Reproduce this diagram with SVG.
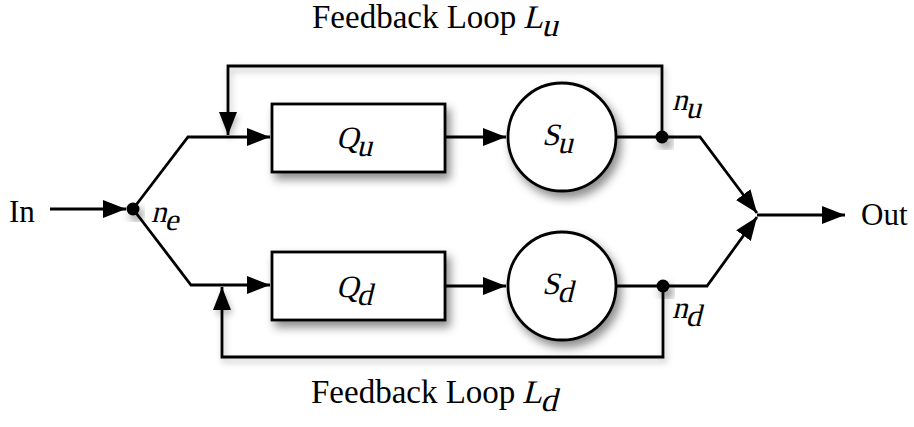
<svg xmlns="http://www.w3.org/2000/svg" width="914" height="427" viewBox="0 0 914 427">
<defs>
<marker id="arr" markerUnits="userSpaceOnUse" markerWidth="26" markerHeight="20" refX="23" refY="9" orient="auto">
<path d="M0,0 L23,9 L0,18 z" fill="#000"/>
</marker>
<filter id="sh" x="-30%" y="-30%" width="170%" height="180%">
<feDropShadow dx="4" dy="6" stdDeviation="5" flood-color="#000" flood-opacity="0.45"/>
</filter>
<filter id="shl" x="-10%" y="-50%" width="120%" height="200%">
<feDropShadow dx="2" dy="4" stdDeviation="3" flood-color="#000" flood-opacity="0.25"/>
</filter>
</defs>
<style>
.ln{fill:none;stroke:#000;stroke-width:2.8;stroke-linejoin:miter}
.node{fill:#fff;stroke:#000;stroke-width:2.8}
.t{font-family:"Liberation Serif","Times New Roman",serif;font-size:31px;fill:#000}
.big{font-size:33px}
.dot{fill:#000}
</style>
<rect width="914" height="427" fill="#fff"/>
<g id="connectors">
<path class="ln" d="M50,209 L126,209" marker-end="url(#arr)"/>
<path class="ln" d="M133,209 L188,137 L270,137" marker-end="url(#arr)"/>
<path class="ln" d="M133,209 L191,285 L270,285" marker-end="url(#arr)"/>
<path class="ln" d="M446,137 L506,137" marker-end="url(#arr)"/>
<path class="ln" d="M446,286 L506,286" marker-end="url(#arr)"/>
<path class="ln" d="M617,137 L700,137 L757,213" marker-end="url(#arr)"/>
<path class="ln" d="M617,286 L707,286 L757,217" marker-end="url(#arr)"/>
<path class="ln" d="M757,215 L845,215" marker-end="url(#arr)"/>
<path class="ln" filter="url(#shl)" d="M662,137 L662,66 L228,66 L228,135" marker-end="url(#arr)"/>
<path class="ln" filter="url(#shl)" d="M663,286 L663,357 L222,357 L222,287" marker-end="url(#arr)"/>
</g>
<g id="n_e"><circle class="dot" cx="133" cy="209" r="6.5" filter="url(#sh)"/><text class="t" transform="translate(151,222) skewX(-14)">n<tspan dy="8">e</tspan></text></g>
<g id="n_u"><circle class="dot" cx="662" cy="137" r="6.5" filter="url(#sh)"/><text class="t" transform="translate(672,110) skewX(-14)">n<tspan dy="8">u</tspan></text></g>
<g id="n_d"><circle class="dot" cx="663" cy="286" r="6.5" filter="url(#sh)"/><text class="t" transform="translate(672,318) skewX(-14)">n<tspan dy="8">d</tspan></text></g>
<g id="Q_u"><rect class="node" x="272" y="104" width="173" height="68" filter="url(#sh)"/><text class="t" transform="translate(336,148) skewX(-14)">Q<tspan dy="8">u</tspan></text></g>
<g id="Q_d"><rect class="node" x="272" y="252" width="173" height="68" filter="url(#sh)"/><text class="t" transform="translate(336,297) skewX(-14)">Q<tspan dy="8">d</tspan></text></g>
<g id="S_u"><circle class="node" cx="562" cy="137" r="54" filter="url(#sh)"/><text class="t" transform="translate(542,145) skewX(-14)">S<tspan dy="8">u</tspan></text></g>
<g id="S_d"><circle class="node" cx="562" cy="286" r="54" filter="url(#sh)"/><text class="t" transform="translate(542,294) skewX(-14)">S<tspan dy="8">d</tspan></text></g>
<g id="in"><text class="t" x="9" y="222">In</text></g>
<g id="out"><text class="t" x="861" y="225">Out</text></g>
<g id="loop_u"><text class="t big" x="312" y="28">Feedback Loop</text><text class="t big" transform="translate(523,28) skewX(-14)">L<tspan dy="8">u</tspan></text></g>
<g id="loop_d"><text class="t big" x="311" y="403">Feedback Loop</text><text class="t big" transform="translate(522,403) skewX(-14)">L<tspan dy="8">d</tspan></text></g>
</svg>
